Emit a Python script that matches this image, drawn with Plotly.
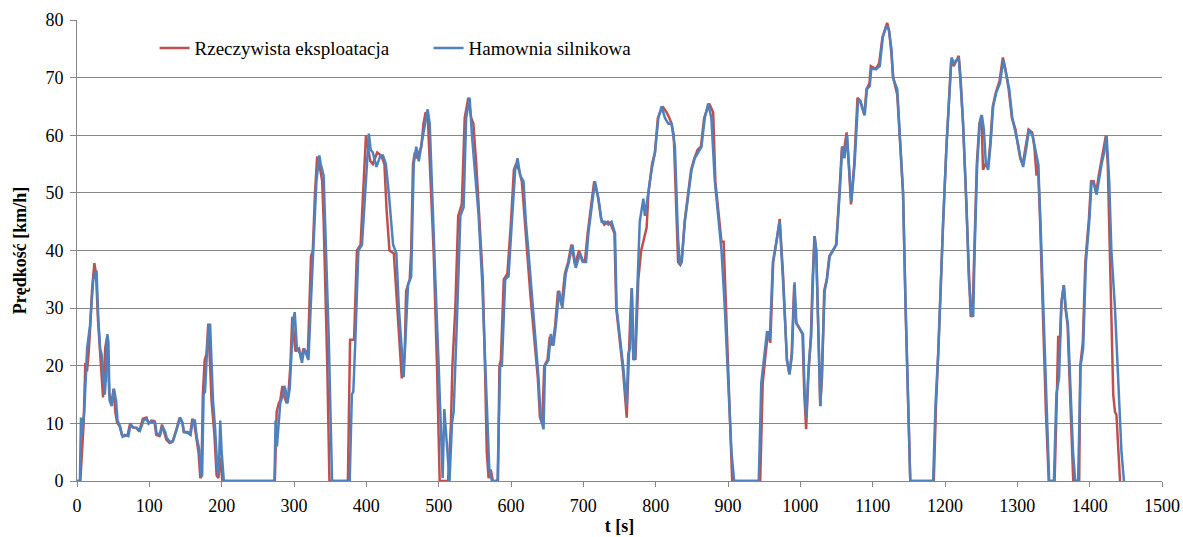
import plotly.graph_objects as go

# Blue series: Hamownia silnikowa (time [s], speed [km/h])
blue_t = [0, 4, 5.5, 7, 10, 12.5, 14, 18, 20, 22.5, 25, 27, 29.5, 32, 34, 36.5, 38.5, 40, 42, 43.5, 45, 48, 51, 54, 56,
          59.5, 63, 66, 71, 74, 78, 82.6, 87, 92, 96.5, 99, 103, 108, 110, 115, 118, 122, 124, 129, 133, 138, 142.6,
          146, 148, 154, 157, 160, 163, 165.7, 169, 171.7, 173, 175, 177, 179.5, 182, 184, 186, 188, 191, 194, 196,
          198, 200, 203, 273, 274.5, 276.4, 279, 281, 285, 286.6, 289, 291, 294, 297, 299, 301, 304, 309, 311, 314,
          318, 320, 323, 327, 329, 331, 335, 337, 341, 343, 348, 352.6, 377, 380, 382, 385, 389, 394, 398, 403.5,
          406, 409, 414, 419.5, 423, 427, 431, 437, 441.5, 445, 451.6, 455, 457.6, 462, 465.5, 469, 472.5, 477,
          481.6, 484.8, 487.6, 490.8, 495.4, 500, 503.7, 505.5, 507.8, 511.5, 515, 518.4, 520.7, 525.3, 530, 534.5,
          538, 542.8, 546, 550.6, 555, 560, 564.4, 567.6, 570, 573.6, 581.4, 585, 587.4, 592, 596.6, 601.2, 605.8,
          609, 612.7, 617.3, 620.5, 624, 628.8, 633.4, 638, 641, 645, 647, 651.8, 655, 658.7, 662, 666.5, 671,
          675.7, 680, 684.9, 689.5, 695.5, 700, 703.8, 707, 711.6, 716, 721, 725.4, 730, 734.6, 739, 743.8, 746,
          750.7, 755, 760, 762, 764.5, 767, 769, 771.4, 773.7, 778, 783, 785, 789.8, 794.4, 799, 803.7, 808.2,
          812.8, 817.5, 822, 826.6, 828.9, 831, 833.5, 835.8, 840.4, 845, 849.6, 854, 858.7, 863.3, 867.9, 872.6,
          877, 881.8, 886.4, 891, 895.6, 900, 904.8, 908.5, 942.5, 946, 950.8, 954, 957.7, 962, 966.8, 971.4, 976,
          978.3, 981.5, 985, 988.5, 992, 994.5, 999, 1003.7, 1006, 1008.3, 1011.5, 1015, 1017.5, 1019.8, 1022,
          1024.4, 1027.7, 1030, 1033.7, 1036.9, 1040.6, 1045.2, 1049.8, 1054.4, 1058, 1061, 1064.6, 1067, 1070.6,
          1075, 1079.8, 1083, 1089, 1092, 1096, 1098, 1105, 1109.8, 1114, 1119, 1122, 1126, 1128, 1134, 1137.5,
          1142, 1145.6, 1149, 1152, 1183.6, 1186.8, 1190.5, 1195, 1197.4, 1202, 1205, 1209, 1212.6, 1216, 1219,
          1221, 1225, 1229.7, 1233, 1236.6, 1239, 1241, 1244.5, 1248, 1251, 1253.7, 1256.5, 1259.7, 1263, 1266.6,
          1271, 1276, 1280.6, 1284, 1288.8, 1293, 1298, 1301, 1304.4, 1308, 1312.7, 1316, 1321, 1324, 1328.9, 1332,
          1335.8, 1340.4, 1344, 1350.6, 1354, 1357.7, 1361, 1364.4, 1367, 1370, 1373.6, 1377, 1380, 1384, 1387.5,
          1391, 1394.8, 1399.4, 1402.7, 1406, 1409.6, 1413, 1416.5, 1420, 1423.4, 1427, 1430, 1435, 1439.6, 1444,
          1447.4]
blue_v = [0, 0, 11, 8, 12, 20, 23, 27, 30, 35, 36, 36.5, 28, 23, 22, 17, 15, 18, 25.5, 24, 14, 13, 16, 14, 10.5,
          9.5, 7.7, 8, 7.8, 9.8, 9.3, 9.2, 8.7, 10.5, 10.8, 10, 10.3, 10.2, 8.3, 8, 9.5, 8.5, 7.5, 6.7, 7, 9, 11,
          10, 8.5, 8.3, 8, 10.5, 10.5, 7.5, 5.5, 1, 1, 15, 15.5, 22, 26.5, 27.3, 22, 14, 9, 2, 1,
          10.5, 5, 0, 0, 10.5, 6, 10, 13.5, 15, 16.5, 15.5, 13.5, 16, 22, 28, 29.3, 23, 22, 20.5, 23,
          21.5, 21, 30, 40, 45, 52, 56.5, 55, 53, 45, 25, 0, 0, 15, 15.5, 25, 40, 41, 50, 60.3,
          57.5, 57, 54.5, 56.5, 56.5, 55, 50, 41, 39.5, 30, 18, 27, 34, 35.5, 55, 58, 55.5, 59,
          62, 64.5, 62, 50, 35, 20, 5, 0.5, 12.5, 5, 0, 10, 12, 28, 46, 47.5,
          63, 66.5, 60, 53, 46.5, 35, 20, 8, 2, 0, 0, 20, 20, 35, 35.5, 45, 54,
          56, 53, 52, 45, 40, 32, 25, 18, 11, 9, 20, 21, 25.5, 23.5, 27, 33, 30,
          36, 38, 41, 37, 39.5, 38, 38, 43, 48, 52, 49, 45, 45, 44.5, 45, 43, 30,
          25, 20, 13, 22, 23, 33.5, 21, 21.5, 30, 45, 49, 46, 50, 54, 57, 63, 65,
          63, 62, 62, 58, 50, 42, 37.5, 38, 45, 50, 54, 56, 57, 58, 63, 65.5,
          63, 52, 46, 40, 30, 17, 5, 0, 0, 17, 22, 26, 24.5, 38, 41.5, 45, 35,
          28, 21, 18.5, 22, 34.5, 27.5, 26.5, 25.5, 15, 11, 20, 25, 35, 42.5, 40,
          30, 13, 20, 33, 35, 39, 40, 41, 50, 58, 56, 60, 55, 48.5,
          55, 66, 66, 63.5, 68, 68.5, 71.5, 71.5, 72, 77, 79, 78.5, 75, 70, 68, 60,
          50, 30, 15, 0, 0, 13, 22, 38, 45, 58, 64, 73.5, 72.5, 73, 73.5,
          70, 62, 48, 35, 29, 28.5, 40, 55, 62, 63.5, 61, 55, 54, 58.5, 65,
          67.5, 69, 73, 71, 68, 63, 60.5, 58.5, 56, 54.5, 58, 61, 60, 58, 55, 45,
          30, 12, 0, 0, 15, 18, 31, 34, 30, 27, 15, 5, 0, 0, 20,
          23, 38, 45, 52, 51.5, 49.7, 52.5, 55, 57, 60, 52, 40, 30, 18, 5,
          0]

# Red series: Rzeczywista eksploatacja (time [s], speed [km/h])
red_t = [0, 4.6, 9.2, 11.5, 13.8, 16, 18.4, 20.7, 24, 26.3, 29, 32, 34.6, 36, 39, 41.5, 44.7, 47.5, 50.7, 53, 55.3,
         59, 62, 65.5, 70, 73.5, 77, 82, 86, 91, 96, 99, 103, 107, 109.5, 114, 117.5, 121, 123.5, 128, 132, 137, 142,
         145.5, 147.5, 153, 156.5, 159.5, 162, 165, 168, 170.5, 172, 174, 176.5, 179, 181.5, 184, 186, 190, 193,
         195.5, 197.5, 199.5, 201, 273.5, 276, 279, 281, 284, 287, 290, 292.5, 295, 297.6, 300, 302, 307, 310, 313,
         316, 319, 321, 323.5, 326, 329, 332, 335, 339, 341, 346, 349, 374.5, 377.5, 383, 387, 392, 396, 399.5,
         402, 405.5, 409, 415, 420.5, 425, 428, 432, 438, 443, 446, 449, 453, 455, 460, 462, 464.5, 467, 470, 476,
         479, 482, 485, 490, 493, 497.7, 501.4, 513, 517, 519, 523, 527, 532, 536, 541, 545, 548, 552, 556, 561,
         564, 566.5, 569, 572, 575, 582, 584, 586, 590, 595, 600, 604, 607, 611, 615, 619, 622, 627, 632, 637, 640,
         643, 646, 650.5, 653.5, 657.5, 661, 665, 670, 674.5, 679, 683.5, 688.5, 694, 699, 702.5, 706, 710.5, 715,
         720, 724.5, 729, 734, 738, 743, 745.5, 750, 755, 760, 762.5, 765, 767, 769.5, 772, 776, 780, 784, 787.5,
         790, 795, 799, 803, 809.6, 815, 819, 822, 825, 828, 831, 834, 836, 840, 844.5, 849, 853.5, 858, 862.5, 867,
         874, 879.5, 882.5, 887, 891, 894, 897, 901, 905.8, 944.5, 948, 952, 955.5, 958.5, 962.5, 967, 971.5, 976,
         978.5, 981.5, 985, 988, 991.5, 994, 998.5, 1003, 1005.5, 1008, 1011, 1014.5, 1017, 1019.5, 1022, 1024,
         1027.5, 1030, 1033, 1036.5, 1040, 1045, 1049.5, 1054, 1057.5, 1060.5, 1064, 1067, 1070, 1074.5, 1079,
         1082.5, 1088.5, 1091.5, 1095.5, 1097.5, 1104.5, 1109, 1113.5, 1120, 1123, 1126, 1128.5, 1134, 1137.5,
         1142, 1145.5, 1149, 1152, 1184.5, 1187.5, 1191, 1195, 1197.5, 1202, 1205, 1208.5, 1212, 1215.5, 1219,
         1221.5, 1225, 1229.5, 1233, 1235.5, 1238, 1240.5, 1244, 1247.5, 1250.5, 1252.5, 1256, 1259.5, 1262.5,
         1266, 1270.5, 1275.5, 1280, 1283.5, 1288, 1292.5, 1297.5, 1300.5, 1304, 1307.5, 1312, 1315.5, 1320.5,
         1323.5, 1326.6, 1328.5, 1331.5, 1335, 1339.5, 1343.5, 1351.5, 1354.5, 1356.5, 1359, 1361, 1364, 1366.5,
         1369.5, 1373, 1375, 1377.3, 1385.5, 1387, 1390.5, 1394, 1399, 1402, 1405.5, 1409, 1412.5, 1416, 1419.5,
         1422.5, 1425, 1428, 1432.6, 1435, 1437, 1442]
red_v = [0, 0, 10, 20.5, 19, 22, 27, 33, 37.8, 36, 28, 22, 17, 14.5, 23, 25, 15, 13.5, 16, 12, 10.2,
         9.5, 8, 7.8, 8, 10, 9.3, 9.2, 8.6, 10.8, 11, 10, 10.5, 10.4, 8, 7.8, 9.8, 8.3, 7.2, 6.6, 6.8, 8.8, 11,
         10.2, 8.5, 8.5, 8.2, 10.8, 10, 7.5, 5, 0.5, 0.8, 15, 21, 22, 27.3, 20, 14, 8, 1,
         0.5, 4, 2, 0, 0, 12, 13.5, 14, 16.5, 14.5, 13.5, 15.5, 20, 28.5, 25, 22.5, 23, 21, 23,
         22.5, 21.5, 30, 39, 40, 50, 56.3, 55, 52, 45, 20, 0, 0, 24.5, 24.5, 40, 41, 50, 60,
         58, 55.5, 55, 57, 56.5, 55, 47, 40, 39.5, 30, 25, 17.8, 22, 33, 35, 40, 55, 57, 56, 58,
         62, 64, 63, 50, 40, 20, 0, 0, 10, 20, 30, 46, 48, 63, 66.5, 63, 62, 55, 46, 35,
         20, 5, 0.5, 2, 0, 0, 20, 21, 35, 36, 45, 54, 55, 54, 52, 45, 40, 32, 25, 18, 11,
         10, 20, 21, 25, 23.5, 27, 33, 30.5, 36, 38, 41, 37.5, 40, 38, 38.5, 43, 48, 52,
         49.5, 45.5, 44.5, 45, 44.5, 43, 30, 25, 19, 11, 22, 29, 33.5, 22, 21, 35, 40, 42, 44,
         50, 55, 57, 63, 65, 64, 63, 62, 60, 50, 38, 37.5, 38, 45, 50, 54, 56, 57.5, 58, 63,
         65.5, 64, 52, 46, 41.5, 41.5, 30, 17, 0, 0, 17, 22, 26, 24, 38, 41.5, 45.5, 36,
         28, 21, 18.5, 22, 34, 27.5, 26.5, 25.5, 15, 9, 18, 25, 35, 42.5, 40, 30,
         13, 18, 33, 35, 39, 40, 41, 50, 58, 57.5, 60.5, 55, 48, 55, 66.5,
         66, 63.5, 68, 69, 72, 71.5, 72.5, 77, 79.5, 78, 74, 70, 67, 60,
         50, 30, 15, 0, 0, 13, 23, 38, 45, 58, 65, 73, 72, 73, 73.8,
         70, 62, 48, 35, 28.5, 29, 40, 55, 62, 63.5, 54, 55, 54.5, 58.5,
         65, 67.5, 69.5, 73.5, 71.5, 68, 63, 61, 58.5, 56, 55, 58.5, 61, 60.5,
         58, 53, 55, 45, 30, 12, 0, 0, 14, 25, 25, 31, 34, 30,
         27, 15, 5, 0, 0, 20, 24, 38, 45.5, 52, 52, 50, 53, 55.5, 57.5,
         60, 55, 40, 15, 12, 11.5, 0]

series_names = ["Rzeczywista eksploatacja", "Hamownia silnikowa"]
x_title = "t [s]"
y_title = "Prędkość [km/h]"

FONT = "Liberation Serif, Times New Roman, serif"
AXIS_COLOR = "#868686"

fig = go.Figure()
fig.add_trace(go.Scatter(x=red_t, y=red_v, mode="lines", name=series_names[0],
                         line=dict(color="#C0504D", width=2.5)))
fig.add_trace(go.Scatter(x=blue_t, y=blue_v, mode="lines", name=series_names[1],
                         line=dict(color="#4F81BD", width=2.5)))

fig.update_layout(
    width=1183, height=537,
    margin=dict(l=77, r=21, t=20, b=56, autoexpand=False),
    paper_bgcolor="white", plot_bgcolor="white",
    font=dict(family=FONT, size=18, color="black"),
    legend=dict(orientation="h", x=0.0715, y=0.939, xanchor="left", yanchor="middle",
                bgcolor="rgba(0,0,0,0)", font=dict(family=FONT, size=19, color="black"),
                entrywidth=229, entrywidthmode="pixels", itemwidth=30),
    showlegend=True,
)
fig.update_xaxes(
    range=[0, 1500], dtick=100, tick0=0, automargin=False,
    showline=True, linecolor=AXIS_COLOR, linewidth=1,
    ticks="outside", ticklen=5, tickcolor=AXIS_COLOR, ticklabelstandoff=3,
    showgrid=False, zeroline=False,
    tickfont=dict(family=FONT, size=18, color="black"),
    title=dict(text="<b>" + x_title + "</b>", font=dict(family=FONT, size=18, color="black"), standoff=4),
)
fig.update_yaxes(
    range=[0, 80], dtick=10, tick0=0, automargin=False,
    showline=True, linecolor=AXIS_COLOR, linewidth=1,
    ticks="outside", ticklen=6, tickcolor=AXIS_COLOR, ticklabelstandoff=3,
    showgrid=True, gridcolor=AXIS_COLOR, gridwidth=1, zeroline=False,
    tickfont=dict(family=FONT, size=18, color="black"),
    title=dict(text="<b>" + y_title + "</b>", font=dict(family=FONT, size=18, color="black"), standoff=14),
)

fig.write_html("out.html")
